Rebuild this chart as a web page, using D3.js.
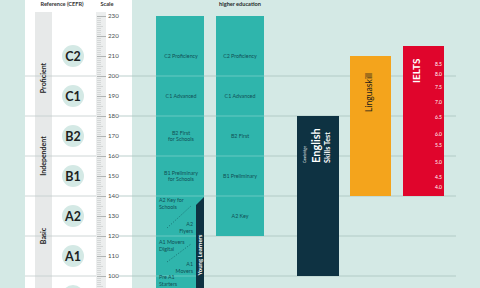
<!DOCTYPE html>
<html>
<head>
<meta charset="utf-8">
<script src="https://cdn.jsdelivr.net/npm/d3@7"></script>
<style>
  html, body { margin: 0; padding: 0; background: #d4e9e5; }
  svg { display: block; font-family: "Lato", "Open Sans", sans-serif; }
</style>
</head>
<body>
<div id="chart"></div>
<script>
// CEFR levels and where they sit on the Cambridge English Scale
var levels = ["C2", "C1", "B2", "B1", "A2", "A1", "Pre A1"];
var levelMid = [210, 190, 170, 150, 130, 110, 90];

var bandNames = ["Proficient", "Independent", "Basic"];
var bandLo = [180, 140, 100];
var bandHi = [232, 180, 140];
var bandLabelAt = [199, 160, 120];

var boundaries = [200, 180, 160, 140, 120, 100];

// tests (bars)
var testNames = ["Schools", "Higher education", "Cambridge English Skills Test", "Linguaskill", "IELTS"];
var testLo = [80, 120, 100, 140, 140];
var testHi = [230, 230, 180, 210, 215];

// cells of the two teal bars
var schoolLabels = [["C2 Proficiency"], ["C1 Advanced"], ["B2 First", "for Schools"], ["B1 Preliminary", "for Schools"]];
var schoolLabelAt = [210, 190, 170, 150];
var higherLabels = [["C2 Proficiency"], ["C1 Advanced"], ["B2 First"], ["B1 Preliminary"], ["A2 Key"]];
var higherLabelAt = [210, 190, 170, 150, 130];

// young learners cells (first-line value, alignment)
var ylLabels = [["A2 Key for", "Schools"], ["A2", "Flyers"], ["A1 Movers", "Digital"], ["A1", "Movers"], ["Pre A1", "Starters"]];
var ylLabelAt = [137, 125, 116, 105, 98.5];
var ylAlign = ["start", "end", "start", "end", "start"];
var ylDashes = [[124, 135], [107, 116]];

// IELTS band scores against the scale
var ieltsBands = ["8.5", "8.0", "7.5", "7.0", "6.5", "6.0", "5.5", "5.0", "4.5", "4.0"];
var ieltsScore = [206, 201, 194.5, 187, 179.5, 171, 165.5, 157, 149.5, 144.5];

var W = 480, H = 288;
var barX = [[156, 204], [216, 264], [297, 339], [350, 391], [403, 444]];
var barColor = ["#2fb5ac", "#2fb5ac", "#0e3242", "#f4a41c", "#e0052c"];
var tealText = "#0f4f55";

var y = d3.scaleLinear().domain([90, 230]).range([296, 16]);

var svg = d3.select("#chart").append("svg")
    .attr("width", W)
    .attr("height", H);

svg.append("rect").attr("width", W).attr("height", H).attr("fill", "#d4e9e5");

// white reference panel
svg.append("rect")
    .attr("x", 25).attr("y", 0)
    .attr("width", 107).attr("height", H)
    .attr("fill", "#ffffff");

// grey band column and scale column
svg.append("rect").attr("x", 35).attr("y", 12).attr("width", 17).attr("height", H)
    .attr("fill", "#e7e9e9");
svg.append("rect").attr("x", 96).attr("y", 12).attr("width", 10).attr("height", H)
    .attr("fill", "#eceeee");

// grid lines
var grid = svg.append("g").attr("class", "grid");
boundaries.forEach(function(v) {
    grid.append("line")
        .attr("x1", 25).attr("x2", 96)
        .attr("y1", y(v)).attr("y2", y(v))
        .attr("stroke", "#c3cccb").attr("stroke-width", 0.8);
    grid.append("line")
        .attr("x1", 119).attr("x2", 456)
        .attr("y1", y(v)).attr("y2", y(v))
        .attr("stroke", "#aac3bf").attr("stroke-width", 0.8);
});

// scale ticks
var ticks = svg.append("g").attr("class", "scale");
d3.range(90, 231, 1).forEach(function(v) {
    var major = v % 10 === 0, mid = v % 5 === 0;
    ticks.append("line")
        .attr("x1", 97).attr("x2", major ? 106 : (mid ? 103 : 101))
        .attr("y1", y(v) + 0.5).attr("y2", y(v) + 0.5)
        .attr("stroke", major ? "#8a8f8f" : "#c4c8c8")
        .attr("stroke-width", 0.6);
    if (major && v >= 100) {
        ticks.append("text")
            .attr("x", 108).attr("y", y(v))
            .attr("dy", "0.35em")
            .style("font-size", "6.2px")
            .style("fill", "#4a4f4f")
            .text(v);
    }
});

// headers
svg.append("text").attr("x", 62).attr("y", 6).attr("text-anchor", "middle")
    .style("font-size", "5.6px").style("font-weight", "bold").style("fill", "#333")
    .text("Reference (CEFR)");
svg.append("text").attr("x", 107).attr("y", 6).attr("text-anchor", "middle")
    .style("font-size", "5.6px").style("font-weight", "bold").style("fill", "#333")
    .text("Scale");
svg.append("text").attr("x", 240).attr("y", 5.5).attr("text-anchor", "middle")
    .style("font-size", "5.6px").style("font-weight", "bold").style("fill", "#1f2b2b")
    .text("higher education");

// band labels
bandNames.forEach(function(name, i) {
    svg.append("text")
        .attr("transform", "translate(46," + y(bandLabelAt[i]) + ")rotate(-90)")
        .attr("text-anchor", "middle")
        .style("font-size", "7px").style("font-weight", "bold").style("fill", "#222")
        .text(name);
});

// level circles (the last one only peeks in at the bottom edge)
var lv = svg.append("g").attr("class", "levels")
    .selectAll("g").data(levels).enter().append("g")
    .attr("transform", function(d, i) { return "translate(73," + y(levelMid[i]) + ")"; });
lv.append("circle").attr("r", 11).attr("fill", "#d4e9e5");
lv.filter(function(d, i) { return y(levelMid[i]) < H - 6; })
    .append("text").attr("text-anchor", "middle").attr("dy", "0.36em")
    .style("font-size", "12.5px").style("font-weight", "bold").style("fill", "#1c2222")
    .text(function(d) { return d; });

// bars
var bars = svg.append("g").attr("class", "bars");
testNames.forEach(function(name, i) {
    bars.append("rect")
        .attr("x", barX[i][0]).attr("width", barX[i][1] - barX[i][0])
        .attr("y", y(testHi[i])).attr("height", y(testLo[i]) - y(testHi[i]))
        .attr("fill", barColor[i]);
});

// faint lines across teal bars
[0, 1].forEach(function(i) {
    boundaries.forEach(function(v) {
        if (v <= testLo[i] || v >= testHi[i]) return;
        bars.append("line")
            .attr("x1", barX[i][0]).attr("x2", barX[i][1])
            .attr("y1", y(v)).attr("y2", y(v))
            .attr("stroke", "#ffffff").attr("stroke-opacity", 0.35).attr("stroke-width", 0.8);
    });
});

function multiLine(g, x, yv, lines, anchor, size, color) {
    var t = g.append("text").attr("text-anchor", anchor)
        .style("font-size", size + "px").style("fill", color);
    lines.forEach(function(l, k) {
        t.append("tspan").attr("x", x).attr("y", yv + k * (size * 1.25)).text(l);
    });
    return t;
}

// labels in teal bars
var cx1 = (barX[0][0] + barX[0][1]) / 2 + 1, cx2 = (barX[1][0] + barX[1][1]) / 2;
schoolLabels.forEach(function(lines, i) {
    var off = (lines.length - 1) * 3.3;
    multiLine(bars, cx1, y(schoolLabelAt[i]) - off + 2, lines, "middle", 5.3, tealText);
});
higherLabels.forEach(function(lines, i) {
    multiLine(bars, cx2, y(higherLabelAt[i]) + 2, lines, "middle", 5.3, tealText);
});

// young learners strip
var ylX0 = 196, ylX1 = barX[0][1];
bars.append("path")
    .attr("d", "M" + ylX0 + "," + y(135.5) + "L" + ylX1 + "," + y(139.5) +
        "L" + ylX1 + "," + H + "L" + ylX0 + "," + H + "Z")
    .attr("fill", "#0e3242");
bars.append("text")
    .attr("transform", "translate(" + (ylX0 + 6.3) + "," + y(110.5) + ")rotate(-90)")
    .attr("text-anchor", "middle")
    .style("font-size", "6px").style("font-weight", "bold").style("fill", "#ffffff")
    .text("Young Learners");

ylLabels.forEach(function(lines, i) {
    var x = ylAlign[i] === "start" ? barX[0][0] + 3 : ylX0 - 3;
    multiLine(bars, x, y(ylLabelAt[i]), lines, ylAlign[i], 5.3, tealText);
});
ylDashes.forEach(function(d) {
    bars.append("line")
        .attr("x1", barX[0][0] + 11).attr("y1", y(d[0]))
        .attr("x2", barX[0][0] + 35).attr("y2", y(d[1]))
        .attr("stroke", tealText).attr("stroke-width", 0.6)
        .attr("stroke-dasharray", "1.2,1.6");
});

// Cambridge English Skills Test logo text
var eskY = y(156.5);
bars.append("text").attr("transform", "translate(306," + eskY + ")rotate(-90)")
    .style("font-size", "3.6px").style("fill", "#ffffff").text("Cambridge");
bars.append("text").attr("transform", "translate(319.5," + eskY + ")rotate(-90)")
    .style("font-size", "11px").style("font-weight", "bold").style("fill", "#ffffff").text("English");
bars.append("text").attr("transform", "translate(330," + eskY + ")rotate(-90)")
    .style("font-size", "7.2px").style("font-weight", "bold").style("fill", "#ffffff").text("Skills Test");

// Linguaskill
bars.append("text").attr("transform", "translate(372," + y(182) + ")rotate(-90)")
    .style("font-size", "8.6px").style("fill", "#1a1a1a").text("Linguaskill");

// IELTS
bars.append("text").attr("transform", "translate(420," + y(196.5) + ")rotate(-90)")
    .style("font-size", "10px").style("font-weight", "bold").style("fill", "#ffffff").text("IELTS");

ieltsBands.forEach(function(b, i) {
    bars.append("text")
        .attr("x", 442).attr("y", y(ieltsScore[i]))
        .attr("dy", "0.35em").attr("text-anchor", "end")
        .style("font-size", "5px").style("fill", "#ffffff")
        .text(b);
});
</script>
</body>
</html>
